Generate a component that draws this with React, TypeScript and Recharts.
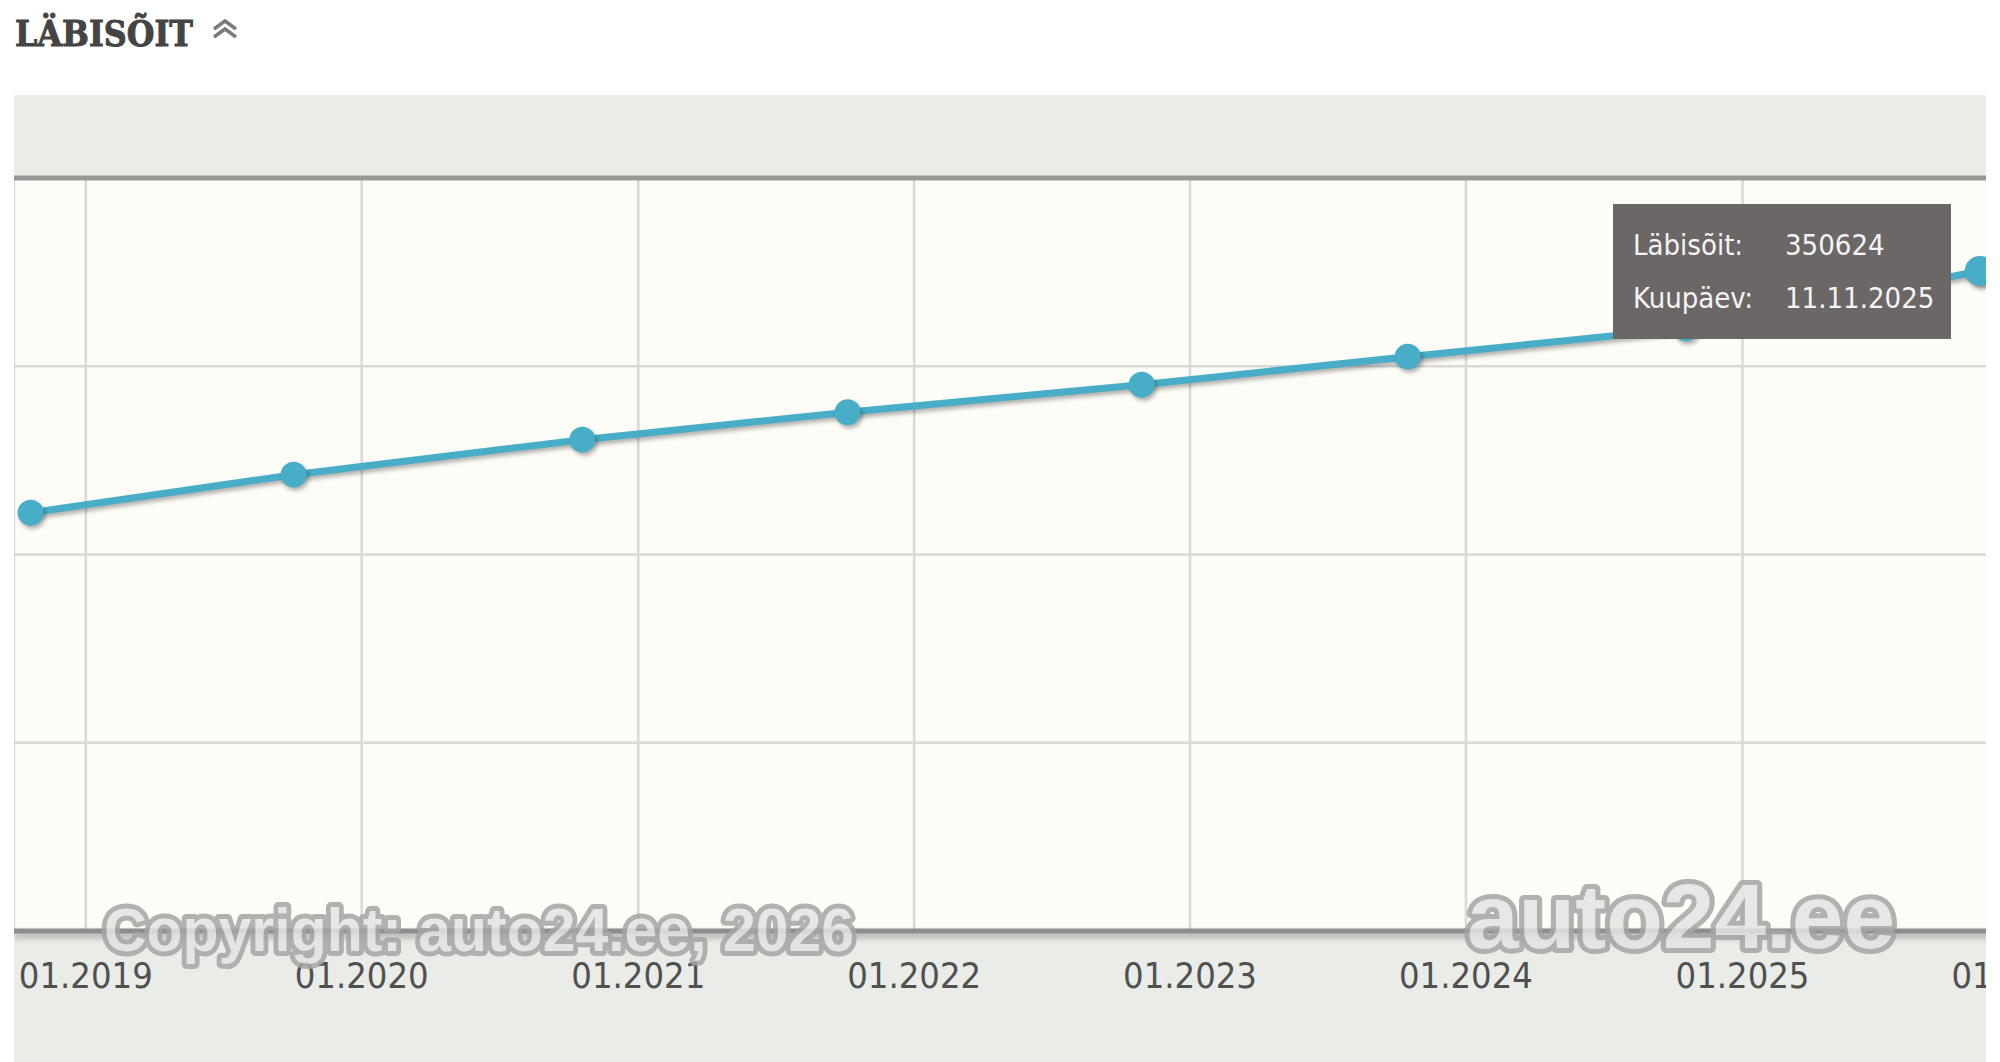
import { LineChart, Line, XAxis, YAxis, CartesianGrid, Tooltip, ReferenceLine } from 'recharts';

// odometer readings as listed on the page
const readingDates = ['20.10.2018', '03.10.2019', '19.10.2020', '05.10.2021', '29.10.2022', '16.10.2023', '18.10.2024', '11.11.2025'];
const mileageKm = [222200, 242400, 261000, 275600, 290200, 305100, 320000, 350624];

const yearTicks = [2019, 2020, 2021, 2022, 2023, 2024, 2025, 2026];
const mileageTicks = [0, 100000, 200000, 300000, 400000];
const dateRange = ['28.09.2018', '01.03.2026'];

const LINE_BLUE = '#48adc6';

const toTime = (d: string) => {
    const [dd, mm, yy] = d.split('.').map(Number);
    return Date.UTC(yy, mm - 1, dd);
};

const rows = readingDates.map((d, i) => ({ date: d, t: toTime(d), km: mileageKm[i] }));
const timeTicks = yearTicks.map((y) => Date.UTC(y, 0, 1));

const formatTick = (t: number) => {
    const d = new Date(t);
    return `${String(d.getUTCMonth() + 1).padStart(2, '0')}.${d.getUTCFullYear()}`;
};

const css = `
body { margin: 0; }
.recharts-line-curve { filter: drop-shadow(2px 3px 2px rgba(0,0,0,0.3)); }
.recharts-line-dots, .recharts-active-dot { filter: drop-shadow(2px 3px 2px rgba(0,0,0,0.3)); }
.recharts-xAxis .recharts-cartesian-axis-line { filter: drop-shadow(0 4px 3px rgba(0,0,0,0.3)); }
`;

const tipFont = '"DejaVu Sans Condensed", "DejaVu Sans", sans-serif';

function ReadingTip({ active, payload }: any) {
    if (!active || !payload || !payload.length) return null;
    const row = payload[0].payload;
    const cell = { height: 53, lineHeight: '53px' };
    return (
        <div
            style={{
                background: '#6b6767',
                color: '#f4f4f4',
                width: 338,
                height: 135,
                boxSizing: 'border-box',
                padding: '15px 0 0 20px',
                fontFamily: tipFont,
                fontStretch: 'condensed',
                fontSize: 29,
            }}
        >
            <div style={{ display: 'flex', ...cell }}>
                <span style={{ width: 152 }}>Läbisõit:</span>
                <span>{row.km}</span>
            </div>
            <div style={{ display: 'flex', ...cell }}>
                <span style={{ width: 152 }}>Kuupäev:</span>
                <span>{row.date}</span>
            </div>
        </div>
    );
}

export default function App() {
    return (
        <div style={{ position: 'relative', width: 2000, height: 1062, overflow: 'hidden', background: '#fff' }}>
            <style>{css}</style>

            <div
                style={{
                    position: 'absolute',
                    left: 14,
                    top: 95,
                    width: 1972,
                    height: 967,
                    overflow: 'hidden',
                    background: '#e9ece7',
                }}
            >
                <LineChart width={2049} height={967} data={rows} margin={{ top: 83, right: 0, bottom: 71, left: 0 }}>
                    <CartesianGrid fill="#fdfcf7" stroke="#d9d9d9" strokeWidth={2.5} />
                    <XAxis
                        dataKey="t"
                        type="number"
                        scale="time"
                        domain={[toTime(dateRange[0]), toTime(dateRange[1])]}
                        ticks={timeTicks}
                        interval={0}
                        tickFormatter={formatTick}
                        height={60}
                        tickLine={false}
                        tickSize={0}
                        tickMargin={31}
                        axisLine={{ stroke: '#8d8d8d', strokeWidth: 5 }}
                        tick={{ fill: '#505050', fontSize: 36, fontFamily: tipFont, fontStretch: 'condensed' }}
                    />
                    <YAxis hide type="number" domain={[0, 400000]} ticks={mileageTicks} />
                    <ReferenceLine y={400000} stroke="#979797" strokeWidth={5} />
                    <Tooltip
                        active
                        defaultIndex={rows.length - 1}
                        cursor={false}
                        isAnimationActive={false}
                        position={{ x: 1599, y: 109 }}
                        content={<ReadingTip />}
                        wrapperStyle={{ outline: 'none', zIndex: 5 }}
                    />
                    <Line
                        type="linear"
                        dataKey="km"
                        stroke={LINE_BLUE}
                        strokeWidth={7}
                        dot={{ r: 13, fill: LINE_BLUE, stroke: 'none' }}
                        activeDot={{ r: 15, fill: LINE_BLUE, stroke: 'none' }}
                        isAnimationActive={false}
                    />
                </LineChart>
            </div>

            {/* title + watermark overlay */}
            <svg
                width={2000}
                height={1062}
                style={{ position: 'absolute', left: 0, top: 0, pointerEvents: 'none', zIndex: 10 }}
            >
                <text
                    x={15}
                    y={46}
                    fontFamily='"DejaVu Serif", serif'
                    fontWeight="bold"
                    fontSize={35}
                    fill="#444"
                    stroke="#444"
                    strokeWidth={1}
                    textLength={178}
                    lengthAdjust="spacingAndGlyphs"
                >
                    LÄBISÕIT
                </text>
                <g fill="none" stroke="#7a7a7a" strokeWidth={3.5}>
                    <polyline points="214,29 225,21 236,29" />
                    <polyline points="214,37 225,29 236,37" />
                </g>
                <g
                    fontFamily='"Liberation Sans", Arial, sans-serif'
                    fontWeight="bold"
                    fill="#e4e4e2"
                    stroke="#a5a5a3"
                    strokeWidth={10}
                    strokeLinejoin="round"
                    paintOrder="stroke"
                    opacity={0.85}
                >
                    <text x={104} y={951} fontSize={61} textLength={750} lengthAdjust="spacingAndGlyphs">
                        Copyright: auto24.ee, 2026
                    </text>
                    <text x={1467} y={948} fontSize={90} textLength={428} lengthAdjust="spacingAndGlyphs">
                        auto24.ee
                    </text>
                </g>
            </svg>
        </div>
    );
}
